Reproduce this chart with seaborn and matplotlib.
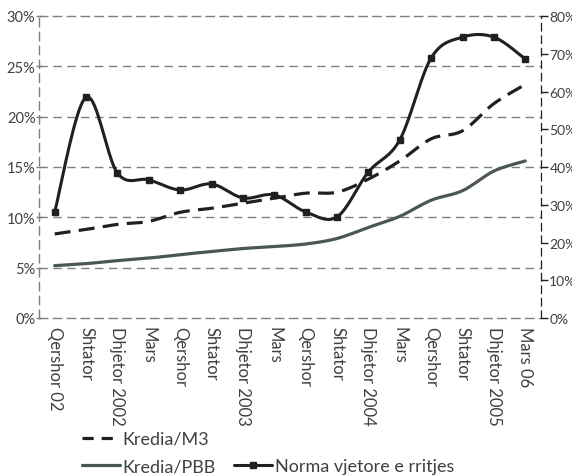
import numpy as np
import pandas as pd
import matplotlib
matplotlib.use("Agg")
import matplotlib.pyplot as plt
import seaborn as sns

# Quarterly labels (Qershor 2002 - Mars 2006)
periods = ["Qershor 02", "Shtator", "Dhjetor 2002", "Mars", "Qershor", "Shtator",
           "Dhjetor 2003", "Mars", "Qershor", "Shtator", "Dhjetor 2004", "Mars",
           "Qershor", "Shtator", "Dhjetor 2005", "Mars 06"]

# Left axis (%)
kredia_m3 = [8.35, 8.8, 9.3, 9.6, 10.5, 10.9, 11.4, 11.9, 12.4, 12.5, 13.8, 15.6,
             17.8, 18.6, 21.3, 23.2]
kredia_pbb = [5.2, 5.4, 5.7, 5.95, 6.3, 6.6, 6.9, 7.1, 7.35, 7.9, 9.0, 10.1,
              11.7, 12.65, 14.6, 15.6]
# Right axis (%)
norma = [28.1, 58.5, 38.4, 36.6, 33.9, 35.5, 31.8, 32.6, 28.1, 26.8, 38.7, 47.2,
         68.9, 74.4, 74.4, 68.6]

BLACK = "#231f20"
SLATE = "#4a5658"
GRID = "#7f7f7f"
TXT = "#404040"


def smooth(x, y, n=20):
    # Excel-style smoothed line: cubic Bezier through the points
    x = np.asarray(x, float)
    y = np.asarray(y, float)
    px = np.concatenate([[x[0]], x, [x[-1]]])
    py = np.concatenate([[y[0]], y, [y[-1]]])
    xs, ys = [], []
    t = np.linspace(0, 1, n)
    for i in range(1, len(px) - 2):
        p0 = np.array([px[i], py[i]])
        p3 = np.array([px[i + 1], py[i + 1]])
        c1 = p0 + (np.array([px[i + 1], py[i + 1]]) - np.array([px[i - 1], py[i - 1]])) / 6
        c2 = p3 - (np.array([px[i + 2], py[i + 2]]) - p0) / 6
        b = ((1 - t) ** 3)[:, None] * p0 + (3 * (1 - t) ** 2 * t)[:, None] * c1 \
            + (3 * (1 - t) * t ** 2)[:, None] * c2 + (t ** 3)[:, None] * p3
        xs.extend(b[:, 0])
        ys.extend(b[:, 1])
    return np.array(xs), np.array(ys)


sns.set_style("white")
plt.rcParams["font.family"] = ["Lato", "DejaVu Sans"]

fig = plt.figure(figsize=(5.72, 4.77), dpi=100)
ax = fig.add_axes([39 / 572, 1 - 319 / 477, 502 / 572, 302 / 477])
ax2 = ax.twinx()

pos = np.arange(len(periods))

xs, ys = smooth(pos, kredia_m3)
sns.lineplot(x=xs, y=ys, ax=ax, sort=False, color=BLACK, lw=2.3, legend=False)
ax.lines[-1].set_dashes((5, 2.6))
xs, ys = smooth(pos, kredia_pbb)
sns.lineplot(x=xs, y=ys, ax=ax, sort=False, color=SLATE, lw=2.3, legend=False)

xs, ys = smooth(pos, norma)
sns.lineplot(x=xs, y=ys, ax=ax2, sort=False, color=BLACK, lw=2.2, legend=False)
ax2.plot(pos, norma, ls="none", marker="s", ms=5, color=BLACK)

ax.set_xlim(-0.5, len(periods) - 0.5)
ax.set_ylim(0, 30)
ax2.set_ylim(0, 80)

ax.set_yticks(range(0, 31, 5))
ax.set_yticklabels([f"{v}%" for v in range(0, 31, 5)])
ax2.set_yticks(range(0, 81, 10))
ax2.set_yticklabels([f"{v}%" for v in range(0, 81, 10)])

ax.set_xticks(pos)
ax.set_xticklabels(periods, rotation=-90, va="top", ha="center")
ax.set_xticks(np.arange(0.5, len(periods) - 0.5, 1), minor=True)

ax.tick_params(axis="x", which="major", length=0, pad=6, labelsize=12, labelcolor=TXT)
ax.tick_params(axis="x", which="minor", length=5, width=1, color=GRID, direction="out")
ax.tick_params(axis="y", length=5, width=1, color=GRID, direction="inout", pad=0,
               labelsize=10.5, labelcolor=TXT, left=True)
ax2.tick_params(axis="y", length=5, width=1, color=BLACK, direction="out", pad=1,
                labelsize=10, labelcolor=TXT, right=True)

ax.grid(False)
ax2.grid(False)
for v in range(5, 30, 5):
    ax.axhline(v, color=GRID, lw=1.0, dashes=(6, 4), zorder=0)

for a in (ax, ax2):
    for s in a.spines.values():
        s.set_visible(False)
for side in ("left", "top", "bottom"):
    sp = ax.spines[side]
    sp.set_visible(True)
    sp.set_color(GRID)
    sp.set_linewidth(1.0)
    sp.set_linestyle((0, (6, 4)))
sp = ax2.spines["right"]
sp.set_visible(True)
sp.set_color(BLACK)
sp.set_linewidth(0.9)
sp.set_linestyle((0, (6, 4)))

# legend below the chart
h_m3 = plt.Line2D([], [], color=BLACK, lw=2.3, dashes=(3.5, 2.5))
h_pbb = plt.Line2D([], [], color=SLATE, lw=2.3)
h_blank = plt.Line2D([], [], color="none")
h_norma = plt.Line2D([], [], color=BLACK, lw=2.2, marker="s", ms=5)
fig.legend([h_m3, h_pbb, h_blank, h_norma],
           ["Kredia/M3", "Kredia/PBB", "", "Norma vjetore e rritjes"],
           ncol=2, loc="upper left", bbox_to_anchor=(82 / 572, 1 - 432 / 477),
           frameon=False, fontsize=13, labelcolor=TXT, handlelength=2.1,
           handletextpad=0.15, columnspacing=1.0, labelspacing=0.62,
           borderpad=0, borderaxespad=0)

fig.savefig("out.png", dpi=100)
